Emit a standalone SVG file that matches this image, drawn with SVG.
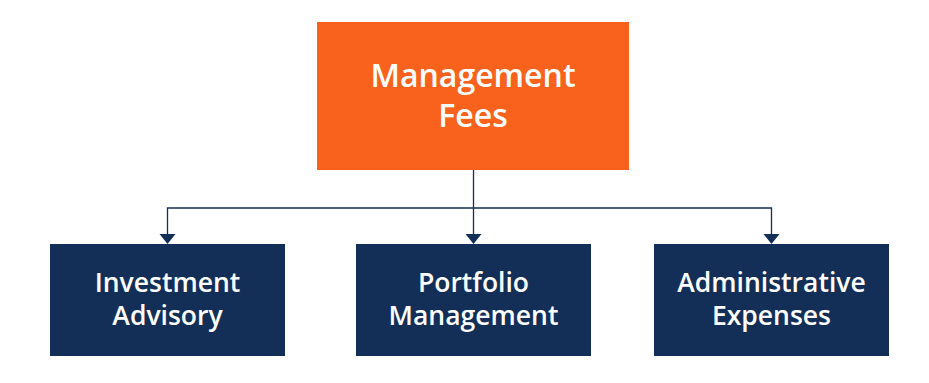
<svg xmlns="http://www.w3.org/2000/svg" width="929" height="383" viewBox="0 0 929 383">
<style>
.top{fill:#F9621C}
.box{fill:#142F57}
.t{font-family:"Open Sans","Liberation Sans",sans-serif;fill:#ffffff;text-anchor:middle;font-weight:600}
.big{font-size:32px}
.sm{font-size:26.5px}
.wire{stroke:#142F57;stroke-width:1.3;fill:none}
.head{fill:#142F57}
</style>
<rect width="929" height="383" fill="#ffffff"/>
<g id="connectors">
<path class="wire" d="M473.5 170 V236 M167.5 236 V208 H771.5 V236"/>
<polygon class="head" points="159.5,234 175.5,234 167.5,244"/>
<polygon class="head" points="465.5,234 481.5,234 473.5,244"/>
<polygon class="head" points="763.5,234 779.5,234 771.5,244"/>
</g>
<g id="management-fees">
<rect class="top" x="317" y="22" width="312" height="148"/>
<text class="t big" x="473" y="87">Management</text>
<text class="t big" x="473" y="127">Fees</text>
</g>
<g id="investment-advisory">
<rect class="box" x="50" y="244" width="235" height="112"/>
<text class="t sm" x="167.5" y="292">Investment</text>
<text class="t sm" x="167.5" y="325">Advisory</text>
</g>
<g id="portfolio-management">
<rect class="box" x="356" y="244" width="235" height="112"/>
<text class="t sm" x="473.5" y="292">Portfolio</text>
<text class="t sm" x="473.5" y="325">Management</text>
</g>
<g id="administrative-expenses">
<rect class="box" x="654" y="244" width="235" height="112"/>
<text class="t sm" x="771.5" y="292">Administrative</text>
<text class="t sm" x="771.5" y="325">Expenses</text>
</g>
</svg>
